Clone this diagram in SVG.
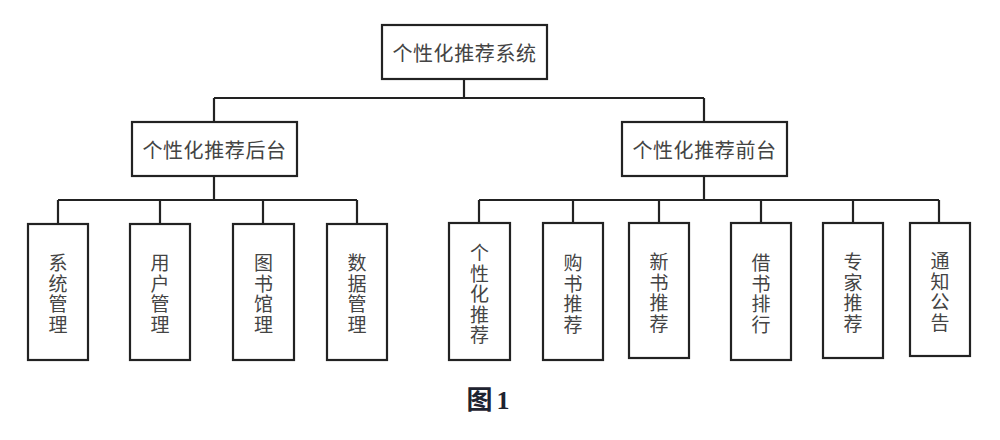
<svg xmlns="http://www.w3.org/2000/svg" width="1000" height="440" viewBox="0 0 1000 440">
<style>
.box{fill:#fff;stroke:#222;stroke-width:2.2}
.lbl{font-family:"Noto Sans CJK SC","Liberation Sans",sans-serif;font-size:20px;fill:#444;text-anchor:middle;dominant-baseline:central}
.v{font-family:"Noto Sans CJK SC","Liberation Sans",sans-serif;font-size:19px;fill:#444;text-anchor:middle;dominant-baseline:central}
.conn{fill:none;stroke:#222;stroke-width:2.2}
.cap{font-family:"Liberation Serif","Noto Sans CJK SC",serif;font-size:26px;font-weight:bold;fill:#1e2330;text-anchor:middle;dominant-baseline:central}
</style>
<rect width="1000" height="440" fill="#fff"/>
<g id="connectors">
<path class="conn" d="M464 79V98M214 98H704M214 98V122M704 98V122"/>
<path class="conn" d="M214 176V200M58 200H357M58 200V224M160 200V224M263 200V224M357 200V224"/>
<path class="conn" d="M704 176V200M479 200H939M479 200V223M573 200V223M659 200V223M761 200V223M853 200V223M939 200V223"/>
</g>
<g id="root"><rect class="box" x="382" y="25" width="165" height="54"/><text class="lbl" x="464.5" y="52" letter-spacing="0.6">个性化推荐系统</text></g>
<g id="backend"><rect class="box" x="132" y="122" width="165" height="54"/><text class="lbl" x="214.5" y="149" letter-spacing="0.6">个性化推荐后台</text></g>
<g id="frontend"><rect class="box" x="622" y="122" width="165" height="54"/><text class="lbl" x="704.5" y="149" letter-spacing="0.6">个性化推荐前台</text></g>
<g id="sys"><rect class="box" x="28" y="224" width="60" height="136"/><text class="v"><tspan x="58" y="261">系</tspan><tspan x="58" y="282">统</tspan><tspan x="58" y="302">管</tspan><tspan x="58" y="323">理</tspan></text></g>
<g id="user"><rect class="box" x="130" y="224" width="60" height="136"/><text class="v"><tspan x="160" y="261">用</tspan><tspan x="160" y="282">户</tspan><tspan x="160" y="302">管</tspan><tspan x="160" y="323">理</tspan></text></g>
<g id="book"><rect class="box" x="233" y="224" width="61" height="136"/><text class="v"><tspan x="263.5" y="261">图</tspan><tspan x="263.5" y="282">书</tspan><tspan x="263.5" y="302">馆</tspan><tspan x="263.5" y="323">理</tspan></text></g>
<g id="data"><rect class="box" x="327" y="224" width="60" height="136"/><text class="v"><tspan x="357" y="261">数</tspan><tspan x="357" y="282">据</tspan><tspan x="357" y="302">管</tspan><tspan x="357" y="323">理</tspan></text></g>
<g id="personal"><rect class="box" x="449" y="223" width="61" height="137"/><text class="v"><tspan x="479.5" y="251">个</tspan><tspan x="479.5" y="271.5">性</tspan><tspan x="479.5" y="292">化</tspan><tspan x="479.5" y="312.5">推</tspan><tspan x="479.5" y="333">荐</tspan></text></g>
<g id="buy"><rect class="box" x="543" y="223" width="60" height="137"/><text class="v"><tspan x="573" y="261">购</tspan><tspan x="573" y="282">书</tspan><tspan x="573" y="302">推</tspan><tspan x="573" y="323">荐</tspan></text></g>
<g id="newbook"><rect class="box" x="629" y="223" width="60" height="135"/><text class="v"><tspan x="659" y="260">新</tspan><tspan x="659" y="281">书</tspan><tspan x="659" y="301">推</tspan><tspan x="659" y="322">荐</tspan></text></g>
<g id="borrow"><rect class="box" x="731" y="223" width="60" height="137"/><text class="v"><tspan x="761" y="261">借</tspan><tspan x="761" y="282">书</tspan><tspan x="761" y="302">排</tspan><tspan x="761" y="323">行</tspan></text></g>
<g id="expert"><rect class="box" x="823" y="223" width="60" height="135"/><text class="v"><tspan x="853" y="260">专</tspan><tspan x="853" y="281">家</tspan><tspan x="853" y="301">推</tspan><tspan x="853" y="322">荐</tspan></text></g>
<g id="notice"><rect class="box" x="910" y="223" width="60" height="133"/><text class="v"><tspan x="940" y="259">通</tspan><tspan x="940" y="280">知</tspan><tspan x="940" y="300">公</tspan><tspan x="940" y="321">告</tspan></text></g>
<text class="cap" x="488" y="400">图<tspan dx="4">1</tspan></text>
</svg>
